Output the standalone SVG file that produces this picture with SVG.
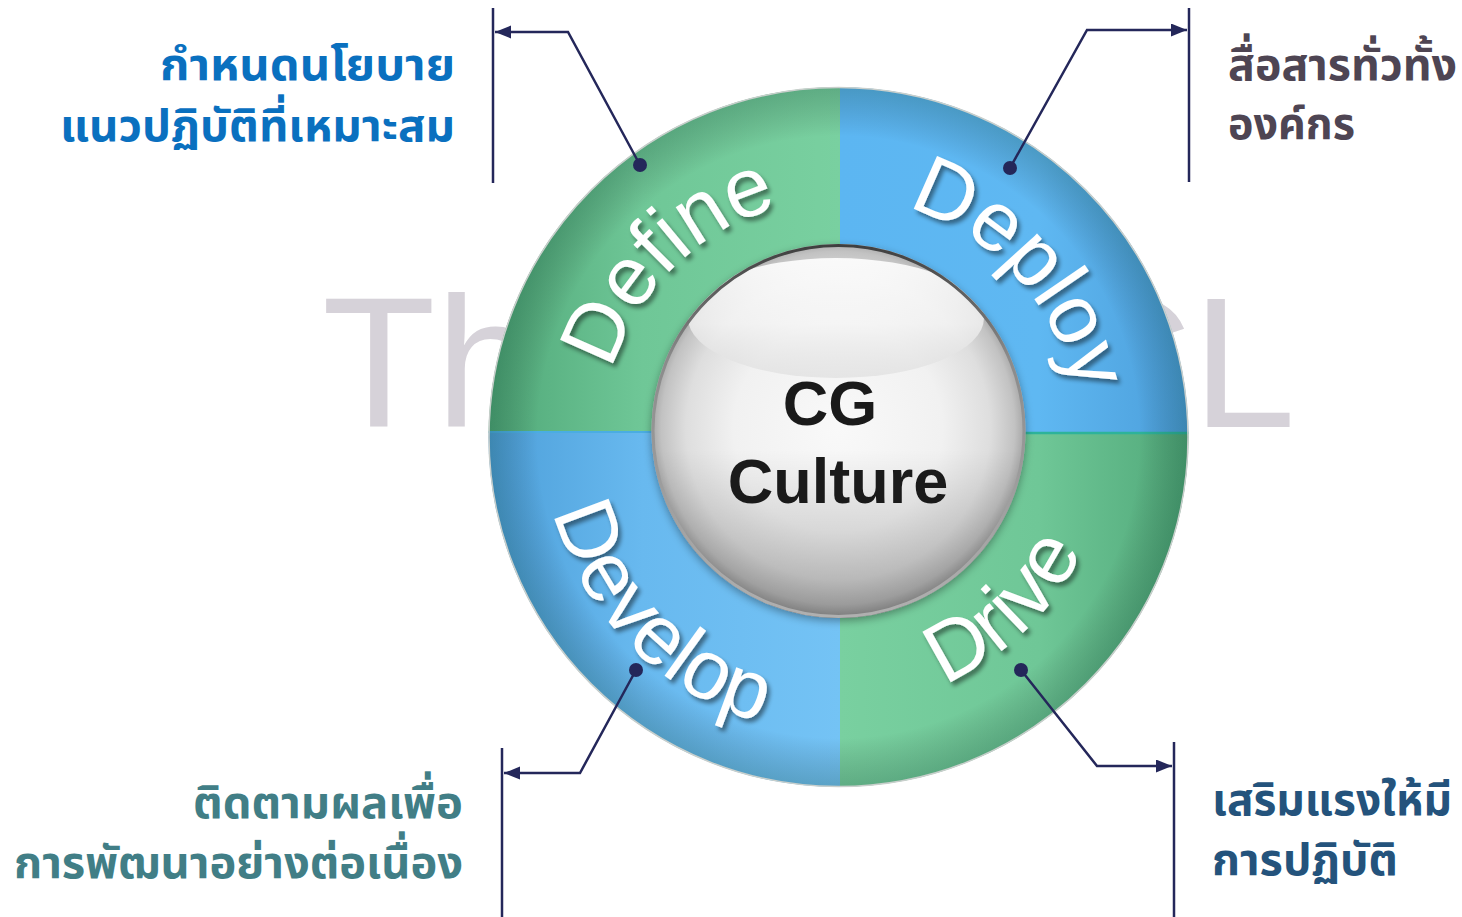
<svg xmlns="http://www.w3.org/2000/svg" width="1462" height="917" viewBox="0 0 1462 917">
  <style>
    .wm { font-family: "Liberation Sans", Arial, sans-serif; font-size: 186px; fill: #d6d2d9; }
    .ringtxt { font-family: "Liberation Sans", Arial, sans-serif; font-size: 84px; fill: #ffffff; }
    .thai { font-family: "Noto Sans Thai", Tahoma, "DejaVu Sans", "Noto Sans", sans-serif; font-size: 45px; font-weight: bold; }
    .conn { fill: none; stroke: #24275a; stroke-width: 2.5; }
    .bar { stroke: #24275a; stroke-width: 2.5; }
    .dot { fill: #24275a; }
    .center { font-family: "Liberation Sans", Arial, sans-serif; font-size: 63px; font-weight: bold; fill: #1a1a1a; text-anchor: middle; }
  </style>
  <defs>
    <marker id="arr" markerUnits="userSpaceOnUse" markerWidth="17" markerHeight="14" refX="16" refY="6.5" orient="auto">
      <path d="M0,0 L16,6.5 L0,13 z" fill="#24275a"/>
    </marker>
    <clipPath id="disc"><circle cx="838.5" cy="437" r="350"/></clipPath>
    <clipPath id="sphClip"><circle cx="838.5" cy="431" r="187"/></clipPath>
    <linearGradient id="gL" x1="0" y1="0" x2="1" y2="0">
      <stop offset="0" stop-color="#4ea677"/>
      <stop offset="0.45" stop-color="#6fc797"/>
      <stop offset="1" stop-color="#79d0a0"/>
    </linearGradient>
    <linearGradient id="gR" x1="0" y1="0" x2="1" y2="0">
      <stop offset="0" stop-color="#79d0a0"/>
      <stop offset="0.55" stop-color="#6fc797"/>
      <stop offset="1" stop-color="#4ea677"/>
    </linearGradient>
    <linearGradient id="bL" x1="0" y1="0" x2="1" y2="0">
      <stop offset="0" stop-color="#4c9ed8"/>
      <stop offset="0.45" stop-color="#68b9ef"/>
      <stop offset="1" stop-color="#74c3f5"/>
    </linearGradient>
    <linearGradient id="bR" x1="0" y1="0" x2="1" y2="0">
      <stop offset="0" stop-color="#5cb6f2"/>
      <stop offset="0.55" stop-color="#5fb8f2"/>
      <stop offset="1" stop-color="#4a9cd8"/>
    </linearGradient>
    <radialGradient id="rim" cx="838.5" cy="437" r="350" gradientUnits="userSpaceOnUse">
      <stop offset="0" stop-color="#000" stop-opacity="0"/>
      <stop offset="0.86" stop-color="#000" stop-opacity="0"/>
      <stop offset="1" stop-color="#003020" stop-opacity="0.22"/>
    </radialGradient>
    <radialGradient id="sph" cx="838" cy="428" r="190" gradientUnits="userSpaceOnUse">
      <stop offset="0" stop-color="#f9f9f9"/>
      <stop offset="0.55" stop-color="#f1f1f1"/>
      <stop offset="0.8" stop-color="#dedede"/>
      <stop offset="0.93" stop-color="#c2c2c2"/>
      <stop offset="1" stop-color="#9c9c9c"/>
    </radialGradient>
    <linearGradient id="sphShade" x1="0" y1="0" x2="0" y2="1">
      <stop offset="0" stop-color="#000" stop-opacity="0"/>
      <stop offset="0.55" stop-color="#000" stop-opacity="0"/>
      <stop offset="1" stop-color="#000" stop-opacity="0.22"/>
    </linearGradient>
    <linearGradient id="sphRim" x1="0" y1="0" x2="0" y2="1">
      <stop offset="0" stop-color="#3f3f3f"/>
      <stop offset="0.3" stop-color="#8a8a8a"/>
      <stop offset="1" stop-color="#b0b0b0"/>
    </linearGradient>
    <linearGradient id="hl" x1="0" y1="0" x2="0" y2="1">
      <stop offset="0" stop-color="#ffffff" stop-opacity="0.9"/>
      <stop offset="0.55" stop-color="#f6f6f6" stop-opacity="0.75"/>
      <stop offset="1" stop-color="#d8d8d8" stop-opacity="0.55"/>
    </linearGradient>
    <filter id="ts" x="-20%" y="-20%" width="140%" height="140%">
      <feDropShadow dx="3" dy="4" stdDeviation="2" flood-color="#000" flood-opacity="0.45"/>
    </filter>
    <filter id="ss" x="-20%" y="-20%" width="140%" height="140%">
      <feDropShadow dx="0" dy="3" stdDeviation="4" flood-color="#000" flood-opacity="0.35"/>
    </filter>
    <path id="pDefine" d="M612,370 A239,239 0 0,1 958.5,230"/>
    <path id="pDeploy" d="M906.9,207.8 A239,239 0 0,1 1063.6,518.7"/>
    <path id="pDevelop" d="M553.5,512 A297,297 0 0,0 890.4,729.5"/>
    <path id="pDrive" d="M944,684 A268,268 0 0,0 1104,391.2"/>
  </defs>

  <g id="watermark">
    <text class="wm" x="322" y="427">Th</text>
    <text class="wm" x="1058" y="427">CL</text>
  </g>

  <g id="ring">
    <g clip-path="url(#disc)">
      <rect id="q-define" x="480" y="80" width="360" height="353" fill="url(#gL)"/>
      <rect id="q-deploy" x="840" y="80" width="360" height="353" fill="url(#bR)"/>
      <rect id="q-develop" x="480" y="433" width="360" height="370" fill="url(#bL)"/>
      <rect id="q-drive" x="840" y="433" width="360" height="370" fill="url(#gR)"/>
      <line x1="840" y1="433" x2="1200" y2="433" stroke="#2db39a" stroke-width="2.5"/>
      <line x1="480" y1="432" x2="840" y2="432" stroke="#4aade2" stroke-width="2"/>
      <circle cx="838.5" cy="437" r="350" fill="url(#rim)"/>
    </g>
    <circle cx="838.5" cy="437" r="349.5" fill="none" stroke="#c9cfcc" stroke-width="1.5"/>
  </g>

  <g id="node-define">
    <text class="ringtxt" filter="url(#ts)"><textPath href="#pDefine">Define</textPath></text>
  </g>
  <g id="node-deploy">
    <text class="ringtxt" filter="url(#ts)"><textPath href="#pDeploy">Deploy</textPath></text>
  </g>
  <g id="node-develop">
    <text class="ringtxt" filter="url(#ts)"><textPath href="#pDevelop">Develop</textPath></text>
  </g>
  <g id="node-drive">
    <text class="ringtxt" filter="url(#ts)"><textPath href="#pDrive">Drive</textPath></text>
  </g>

  <g id="node-center">
    <circle cx="838.5" cy="431" r="187" fill="url(#sph)" filter="url(#ss)"/>
    <g clip-path="url(#sphClip)">
      <rect x="650" y="244" width="378" height="374" fill="url(#sphShade)"/>
      <ellipse cx="836" cy="318" rx="148" ry="60" fill="url(#hl)"/>
    </g>
    <circle cx="838.5" cy="431" r="185.5" fill="none" stroke="url(#sphRim)" stroke-width="3"/>
    <text class="center" x="830" y="425">CG</text>
    <text class="center" x="838" y="503">Culture</text>
  </g>

  <g id="connectors">
    <line class="bar" x1="493" y1="8" x2="493" y2="183"/>
    <polyline class="conn" points="640,165 568,32 495,32" marker-end="url(#arr)"/>
    <circle class="dot" cx="640" cy="165" r="7"/>

    <line class="bar" x1="1189" y1="8" x2="1189" y2="182"/>
    <polyline class="conn" points="1010,168 1087,30 1187,30" marker-end="url(#arr)"/>
    <circle class="dot" cx="1010" cy="168" r="7"/>

    <line class="bar" x1="502" y1="748" x2="502" y2="917"/>
    <polyline class="conn" points="636,670 580,773 504,773" marker-end="url(#arr)"/>
    <circle class="dot" cx="636" cy="670" r="7"/>

    <line class="bar" x1="1174" y1="742" x2="1174" y2="917"/>
    <polyline class="conn" points="1021,670 1097,766 1172,766" marker-end="url(#arr)"/>
    <circle class="dot" cx="1021" cy="670" r="7"/>
  </g>

  <g id="label-define">
    <text class="thai" fill="#0a70bf" text-anchor="end" x="455" y="80" textLength="295" lengthAdjust="spacingAndGlyphs">กำหนดนโยบาย</text>
    <text class="thai" fill="#0a70bf" text-anchor="end" x="455" y="141" textLength="395" lengthAdjust="spacingAndGlyphs">แนวปฏิบัติที่เหมาะสม</text>
  </g>
  <g id="label-deploy">
    <text class="thai" fill="#4e4553" x="1228" y="80" textLength="229" lengthAdjust="spacingAndGlyphs">สื่อสารทั่วทั้ง</text>
    <text class="thai" fill="#4e4553" x="1228" y="139" textLength="127" lengthAdjust="spacingAndGlyphs">องค์กร</text>
  </g>
  <g id="label-develop">
    <text class="thai" fill="#417e86" text-anchor="end" x="463" y="818" textLength="270" lengthAdjust="spacingAndGlyphs">ติดตามผลเพื่อ</text>
    <text class="thai" fill="#417e86" text-anchor="end" x="463" y="878" textLength="449" lengthAdjust="spacingAndGlyphs">การพัฒนาอย่างต่อเนื่อง</text>
  </g>
  <g id="label-drive">
    <text class="thai" fill="#24537c" x="1212" y="815" textLength="240" lengthAdjust="spacingAndGlyphs">เสริมแรงให้มี</text>
    <text class="thai" fill="#24537c" x="1212" y="875" textLength="186" lengthAdjust="spacingAndGlyphs">การปฏิบัติ</text>
  </g>
</svg>
